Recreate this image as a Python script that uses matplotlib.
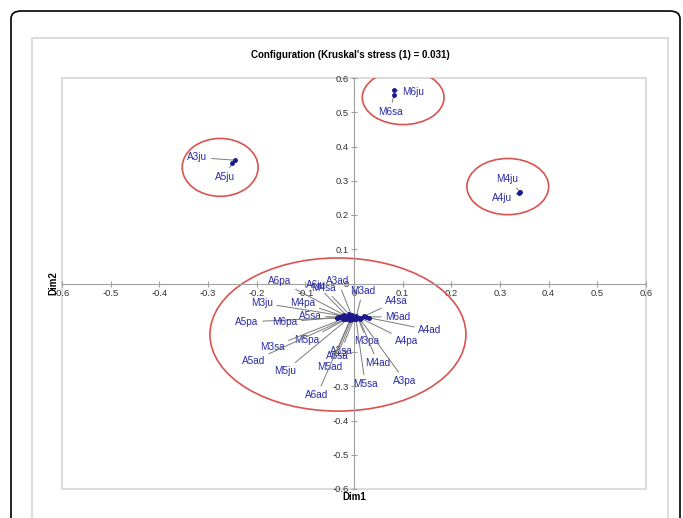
import matplotlib.pyplot as plt
import numpy as np
from matplotlib.patches import Ellipse, FancyBboxPatch, Rectangle

plt.rcParams['font.family'] = ['Liberation Sans', 'DejaVu Sans']

# MDS configuration (Dim1, Dim2)
names = ['A3ju', 'A5ju', 'M6ju', 'M6sa', 'M4ju', 'A4ju',
         'A6pa', 'A6ju', 'M4sa', 'A3ad', 'M3ad', 'A4sa', 'M3ju', 'M4pa',
         'A5sa', 'A5pa', 'M6pa', 'M6ad', 'A4ad', 'M5pa', 'M3pa', 'A4pa',
         'M3sa', 'A6sa', 'A3sa', 'A5ad', 'M5ad', 'M4ad', 'M5ju', 'M5sa',
         'A3pa', 'A6ad']
dim1 = [-0.245, -0.250, 0.082, 0.082, 0.342, 0.340,
        -0.020, -0.015, -0.010, -0.005, 0.005, 0.020, -0.025, -0.020,
        -0.030, -0.035, -0.028, 0.025, 0.030, -0.012, 0.008, 0.015,
        -0.022, -0.004, 0.000, -0.018, -0.006, 0.010, -0.014, 0.004,
        0.012, -0.008]
dim2 = [0.360, 0.352, 0.565, 0.550, 0.268, 0.264,
        -0.092, -0.094, -0.090, -0.093, -0.095, -0.096, -0.094, -0.096,
        -0.098, -0.100, -0.099, -0.097, -0.100, -0.101, -0.100, -0.102,
        -0.103, -0.104, -0.103, -0.104, -0.102, -0.101, -0.105, -0.104,
        -0.103, -0.106]
# where each label was placed on the chart
label_x = [-0.322, -0.265, 0.121, 0.074, 0.314, 0.304,
           -0.152, -0.078, -0.062, -0.033, 0.018, 0.088, -0.189, -0.105,
           -0.090, -0.220, -0.142, 0.090, 0.156, -0.097, 0.027, 0.109,
           -0.168, -0.035, -0.027, -0.207, -0.049, 0.049, -0.142, 0.023,
           0.105, -0.076]
label_y = [0.368, 0.312, 0.558, 0.502, 0.304, 0.251,
           0.007, -0.003, -0.012, 0.007, -0.022, -0.051, -0.057, -0.057,
           -0.095, -0.112, -0.112, -0.098, -0.136, -0.166, -0.168, -0.168,
           -0.185, -0.212, -0.198, -0.226, -0.244, -0.232, -0.256, -0.293,
           -0.285, -0.326]

# groups circled in red: centre x, centre y, width, height
ell_x = [-0.275, 0.101, 0.316, -0.033]
ell_y = [0.339, 0.543, 0.283, -0.149]
ell_w = [0.156, 0.168, 0.168, 0.526]
ell_h = [0.169, 0.158, 0.164, 0.447]

ticks = [-0.6, -0.5, -0.4, -0.3, -0.2, -0.1, 0, 0.1, 0.2, 0.3, 0.4, 0.5, 0.6]

fig = plt.figure(figsize=(6.83, 5.18), dpi=100)
W, H = 683.0, 518.0

# outer black rounded border and inner grey chart box
fig.patches.append(FancyBboxPatch((11 / W, -0.1), 669 / W, 1 - 11 / H + 0.1,
                                  boxstyle='round,pad=0,rounding_size=0.015',
                                  transform=fig.transFigure, fill=False,
                                  edgecolor='black', lw=1.2))
fig.patches.append(Rectangle((32 / W, -0.1), 636 / W, 1 - 38 / H + 0.1,
                             transform=fig.transFigure, fill=False,
                             edgecolor='#dcdcdc', lw=1.5))

ax = fig.add_axes([62 / W, 1 - 489 / H, 584 / W, 411 / H])
ax.set_xlim(-0.6, 0.6)
ax.set_ylim(-0.6, 0.6)

for s in ['top', 'right']:
    ax.spines[s].set_visible(False)
ax.spines['left'].set_position(('data', 0))
ax.spines['bottom'].set_position(('data', 0))
ax.spines['left'].set_color('#a0a0a0')
ax.spines['bottom'].set_color('#a0a0a0')
ax.add_patch(Rectangle((0, 0), 1, 1, transform=ax.transAxes, fill=False,
                       edgecolor='#dcdcdc', lw=1.5, clip_on=False, zorder=0))
ax.set_xticks(ticks)
ax.set_yticks(ticks)
ax.set_xticklabels([('%g' % t) for t in ticks])
ax.set_yticklabels([('%g' % t) for t in ticks])
ax.tick_params(direction='inout', length=4, width=0.8, color='#a0a0a0',
               labelsize=6.8, labelcolor='#333333', pad=2)

ax.text(0, -0.608, 'Dim1', ha='center', va='top', fontsize=7, fontweight='bold')
ax.text(-0.618, 0, 'Dim2', ha='center', va='center', rotation=90,
        fontsize=7, fontweight='bold')

for i in range(len(ell_x)):
    ax.add_patch(Ellipse((ell_x[i], ell_y[i]), ell_w[i], ell_h[i], fill=False,
                         edgecolor='#d9534f', lw=1.2, zorder=2))

for i in range(len(names)):
    ax.annotate(names[i], xy=(dim1[i], dim2[i]), xytext=(label_x[i], label_y[i]),
                ha='center', va='center', fontsize=7.2, color='#2a2aa8',
                arrowprops=dict(arrowstyle='-', color='#7a7a7a', lw=0.7,
                                shrinkA=1, shrinkB=0), zorder=3)
ax.plot(dim1, dim2, 'o', color='#1a1a8c', markersize=2.5, zorder=4)

fig.text(350 / W, 1 - 55 / H, "Configuration (Kruskal's stress (1) = 0.031)",
         ha='center', va='center', fontsize=7, fontweight='bold')

fig.savefig('out.png', dpi=100)
